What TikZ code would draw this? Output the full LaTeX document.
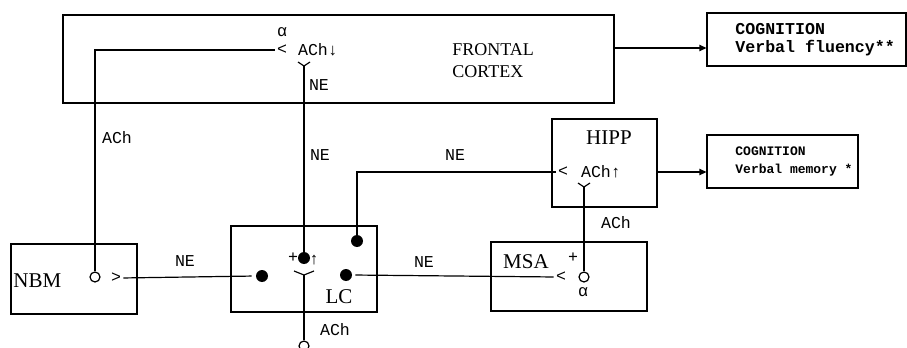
\documentclass[tikz,border=0pt]{standalone}
\usepackage{fontspec}
\setmainfont{Liberation Serif}
\setmonofont{Liberation Mono}
\usetikzlibrary{arrows.meta,positioning}
\tikzset{
	region/.style={
		draw,
		line width=0.6pt,
		inner sep=0pt
	},
	nomen/.style={
		inner sep=0pt,
		font=\fontsize{10.5}{12}\selectfont
	},
	etiq/.style={
		inner sep=0pt,
		font=\fontsize{8.3}{9}\selectfont\ttfamily
	},
	salida/.style={
		inner sep=0pt,
		align=left,
		anchor=west,
		font=\fontsize{8.3}{9}\selectfont\ttfamily\bfseries
	},
	lazo/.style={
		line width=0.6pt
	},
	flecha/.style={
		-{Triangle[length=3.5pt,width=3.2pt]},
		line width=0.6pt
	},
	punto/.style={
		circle,
		fill,
		inner sep=0pt,
		minimum size=6pt
	},
	receptor/.style={
		circle,
		draw,
		line width=0.6pt,
		inner sep=0pt,
		minimum size=5pt
	},
	chev/.pic={\draw[line width=0.6pt] (-6,-4) -- (0,0) -- (6,-4);},
	chevw/.pic={\draw[line width=0.6pt] (-10,-4) -- (0,0) -- (10,-4);}
}

\begin{document}
\begin{tikzpicture}[x=0.5pt,y=-0.5pt]
	\useasboundingbox (0,0) rectangle (907,348);
	\node[region, minimum width=275.5pt, minimum height=44pt] (fc) at (338.5,59) {};
	\node[region, minimum width=63pt, minimum height=35pt] (nbm) at (74,279) {};
	\node[region, minimum width=73pt, minimum height=43pt] (lc) at (304,269) {};
	\node[region, minimum width=78pt, minimum height=34.5pt] (msa) at (569,276.5) {};
	\node[region, minimum width=52.5pt, minimum height=44pt] (hp) at (604.5,163) {};
	\node[region, minimum width=99.5pt, minimum height=26.5pt] (cg1) at (806.5,39.5) {};
	\node[region, minimum width=75.5pt, minimum height=26.5pt] (cg2) at (782.5,161.5) {};

	\node[nomen, font=\fontsize{9}{11}\selectfont, align=left, anchor=west] (fctxt) at (452,61) {FRONTAL\\CORTEX};
	\node[nomen, anchor=west] (nbmtxt) at (13,281) {NBM};
	\node[nomen] (lctxt) at (339,297) {LC};
	\node[nomen] (msatxt) at (526,262) {MSA};
	\node[nomen] (hptxt) at (609,138) {HIPP};
	\node[salida] (cg1txt) at (735,39.5) {COGNITION\\Verbal fluency**};
	\node[salida, font=\fontsize{6.5}{9}\selectfont\ttfamily\bfseries] (cg2txt) at (735,161.5) {COGNITION\\Verbal memory *};

	\node[etiq] (fcAl) at (282,32) {α};
	\node[etiq] (fcLt) at (282,50) {<};
	\node[etiq] (fcACh) at (318,50) {ACh↓};
	\coordinate (fcV) at (304,66);
	\pic at (fcV) {chev};
	\node[etiq] (neA) at (319,85) {NE};

	\node[receptor] (nbmR) at (95,277) {};
	\node[etiq] (nbmGt) at (116,278) {>};
	\node[etiq] (achA) at (117,138) {ACh};
	\node[etiq] (neB) at (185,261) {NE};

	\node[punto] (lcL) at (262,276) {};
	\node[punto] (lcC) at (304,258) {};
	\node[punto] (lcR) at (346,275) {};
	\node[punto] (lcT) at (357,241) {};
	\node[etiq] (lcPl) at (293,258) {+};
	\node[etiq] (lcUp) at (314,260) {↑};
	\coordinate (lcV) at (304,275);
	\pic at (lcV) {chevw};
	\node[receptor] (lcO) at (304,346) {};
	\node[etiq] (achB) at (335,330) {ACh};
	\node[etiq] (neC) at (320,155) {NE};
	\node[etiq] (neD) at (455,155) {NE};
	\node[etiq] (neE) at (424,262) {NE};

	\node[etiq] (hpLt) at (563,172) {<};
	\node[etiq] (hpACh) at (601,172) {ACh↑};
	\coordinate (hpV) at (584,187);
	\pic at (hpV) {chev};
	\node[etiq] (achC) at (616,223) {ACh};

	\node[etiq] (msLt) at (561,277) {<};
	\node[receptor] (msR) at (584,277) {};
	\node[etiq] (msPl) at (573,258) {+};
	\node[etiq] (msAl) at (583,292) {α};

	\draw[lazo] (nbmR.north) |- ([xshift=-1pt]fcLt.west);
	\draw[lazo] (fcV) -- (lcC.north);
	\draw[lazo] (lcV) -- (lcO.north);
	\draw[lazo, shorten <=1pt, shorten >=2pt] (nbmGt.east) -- (lcL.west);
	\draw[lazo, shorten <=1.5pt, shorten >=1pt] (lcR.east) -- (msLt.west);
	\draw[lazo] ([xshift=-1pt]hpLt.west) -| (lcT.north);
	\draw[lazo] (hpV) -- (msR.north);
	\draw[flecha] ([yshift=5.5pt]fc.east) -- ([yshift=5.5pt]fc.east -| cg1.west);
	\draw[flecha] (hp.east |- hpLt) -- (hpLt -| cg2.west);
\end{tikzpicture}
\end{document}
